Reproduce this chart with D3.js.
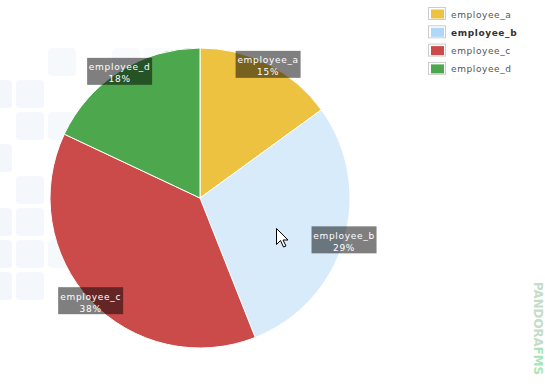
<!DOCTYPE html>
<html><head><meta charset="utf-8">
<script src="https://cdn.jsdelivr.net/npm/d3@7/dist/d3.min.js"></script>
<style>
html,body{margin:0;padding:0;background:#fff;}
svg{display:block;}
</style></head>
<body>
<svg id="chart" width="545" height="384"></svg>
<script>
const categories = ["employee_a", "employee_b", "employee_c", "employee_d"];
const values = [15, 29, 38, 18];
const colors = ["#edc240", "#d7ebfb", "#cb4b4b", "#4da74d"];
const legendColors = ["#edc240", "#afd8f8", "#cb4b4b", "#4da74d"];
const highlighted = "employee_b";

const svg = d3.select("#chart");

// faint background tiles
const tiles = [
  [2,0],[4,0],[5,0],
  [0,1],[1,1],
  [1,2],[2,2],
  [0,3],
  [1,4],
  [0,5],[1,5],
  [0,6],[1,6],[2,6],
  [0,7],[1,7]
];
const bg = svg.append("g");
tiles.forEach(([c,r]) => {
  bg.append("rect")
    .attr("x", -16 + c*32).attr("y", 48 + r*32)
    .attr("width", 28).attr("height", 28)
    .attr("rx", 4)
    .attr("fill", "#f1f6fb")
    .attr("opacity", 0.85 - c*0.08);
});

const cx = 200, cy = 198, R = 150;
const pie = d3.pie().sort(null).value(d => d.v);
const arcs = pie(categories.map((k,i)=>({k, v: values[i], i})));
const arc = d3.arc().innerRadius(0).outerRadius(R);
const total = d3.sum(values);

const g = svg.append("g").attr("transform", `translate(${cx},${cy})`);
g.selectAll("path").data(arcs).enter().append("path")
  .attr("d", arc)
  .attr("fill", d => colors[d.data.i])
  .attr("stroke", "#fff").attr("stroke-width", 1);

// labels at radius R
const labelArc = d3.arc().innerRadius(R).outerRadius(R);
arcs.forEach(d => {
  const [lx, ly] = labelArc.centroid(d);
  const lg = g.append("g").attr("transform", `translate(${lx},${ly})`);
  const pct = Math.round(d.data.v / total * 100) + "%";
  const bw = 65, bh = 27;
  lg.append("rect").attr("x", -bw/2).attr("y", -bh/2).attr("width", bw).attr("height", bh)
    .attr("fill", "#000").attr("opacity", 0.5);
  const t = lg.append("text").attr("text-anchor", "middle")
    .attr("font-family", "DejaVu Sans, Verdana, sans-serif").attr("font-size", 9)
    .attr("letter-spacing", 0.7)
    .attr("fill", "#fff");
  t.append("tspan").attr("x", 0).attr("y", -1).text(d.data.k);
  t.append("tspan").attr("x", 0).attr("y", 11).text(pct);
});

// legend
const leg = svg.append("g");
categories.forEach((k,i) => {
  const y = 7 + i*18.3;
  leg.append("rect").attr("x", 428.5).attr("y", y+0.5).attr("width", 17).attr("height", 12)
    .attr("fill", "#fff").attr("stroke", "#ccc");
  leg.append("rect").attr("x", 431).attr("y", y+2.5).attr("width", 13).attr("height", 9)
    .attr("fill", legendColors[i]);
  leg.append("text").attr("x", 451).attr("y", y+10.5)
    .attr("font-family", "DejaVu Sans, Verdana, sans-serif").attr("font-size", 9)
    .attr("letter-spacing", 0.6)
    .attr("font-weight", k === highlighted ? "bold" : "normal")
    .attr("fill", k === highlighted ? "#333" : "#545454")
    .text(k);
});

// watermark
const wm = svg.append("text")
  .attr("transform", "translate(534,282) rotate(90)")
  .attr("font-family", "DejaVu Sans, Arial, sans-serif").attr("font-size", 12)
  .attr("font-weight", "bold")
  .attr("textLength", 93).attr("lengthAdjust", "spacingAndGlyphs");
wm.append("tspan").attr("fill", "#c4dcc8").text("PANDORA");
wm.append("tspan").attr("fill", "#a8e6b8").text("FMS");

// mouse cursor
svg.append("path")
  .attr("transform", "translate(276.5,228.5)")
  .attr("d", "M0,0 L0,16 L4,12 L7,18.5 L9.5,17.5 L6.5,11.5 L11.5,11.5 Z")
  .attr("fill", "#fff").attr("stroke", "#000").attr("stroke-width", 1)
  .attr("stroke-linejoin", "miter");
</script>
</body></html>
